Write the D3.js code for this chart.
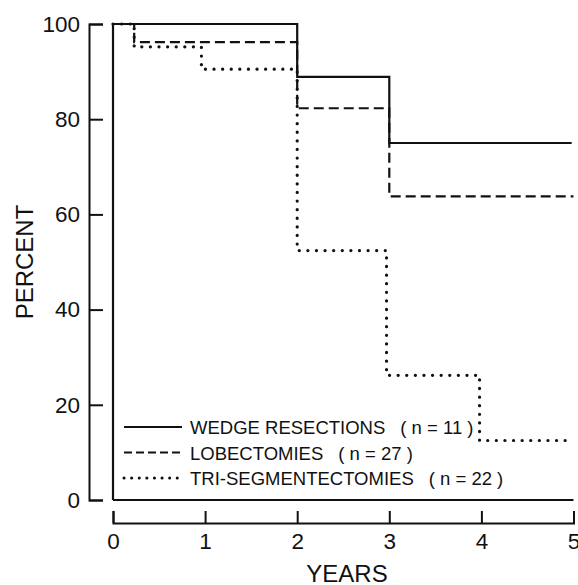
<!DOCTYPE html>
<html>
<head>
<meta charset="utf-8">
<script src="https://cdn.jsdelivr.net/npm/d3@7"></script>
<style>
  html, body { margin: 0; padding: 0; background: #fff; }
  svg { display: block; font-family: "Liberation Sans", Arial, Helvetica, sans-serif; }
</style>
</head>
<body>
<svg id="chart" width="578" height="585"></svg>
<script>
// ---- data ----
const yearTicks = [0, 1, 2, 3, 4, 5];
const percentTicks = [0, 20, 40, 60, 80, 100];
const seriesNames = ["WEDGE RESECTIONS", "LOBECTOMIES", "TRI-SEGMENTECTOMIES"];
const seriesN = [11, 27, 22];
const wedgeTimes = [0, 0, 2, 3, 4.98];
const wedgeValues = [0, 100, 88.9, 75, 75];
const lobeTimes = [0, 0.23, 2, 3, 5];
const lobeValues = [100, 96.2, 82.3, 63.8, 63.8];
const triTimes = [0, 0.23, 0.96, 2, 2.97, 3.98, 4.98];
const triValues = [100, 95.2, 90.5, 52.4, 26.2, 12.5, 12.5];

// ---- layout ----
const svg = d3.select("#chart");
const x = d3.scaleLinear().domain([0, 5]).range([113, 573.5]);
const y = d3.scaleLinear().domain([0, 100]).range([500, 24]);
const font = "Liberation Sans, Arial, Helvetica, sans-serif";

// y axis (ticks point inward)
const yAxis = svg.append("g")
  .attr("transform", "translate(89,0)")
  .call(d3.axisLeft(y).tickValues(percentTicks).tickSize(-14).tickPadding(9).tickFormat(d3.format("d")));
yAxis.selectAll("path, line").attr("stroke", "#111").attr("stroke-width", 2);
yAxis.selectAll("text").attr("font-size", 22.5).attr("font-family", font).attr("fill", "#111");

// x axis (separate, below; ticks point up)
const xAxis = svg.append("g")
  .attr("transform", "translate(0,523)")
  .call(d3.axisBottom(x).tickValues(yearTicks).tickSize(-12).tickPadding(10).tickFormat(d3.format("d")));
xAxis.selectAll("path, line").attr("stroke", "#111").attr("stroke-width", 2);
xAxis.selectAll("text").attr("font-size", 22.5).attr("font-family", font).attr("fill", "#111");

// zero baseline inside the plot
svg.append("line")
  .attr("x1", x(0)).attr("x2", x(5)).attr("y1", y(0)).attr("y2", y(0))
  .attr("stroke", "#111").attr("stroke-width", 2.2);

// axis titles
svg.append("text")
  .attr("transform", `translate(33,${y(50)}) rotate(-90)`)
  .attr("text-anchor", "middle")
  .attr("font-size", 24).attr("font-family", font).attr("fill", "#111")
  .text("PERCENT");
svg.append("text")
  .attr("x", 347).attr("y", 582)
  .attr("text-anchor", "middle")
  .attr("font-size", 24).attr("font-family", font).attr("fill", "#111")
  .text("YEARS");

// ---- curves ----
const line = d3.line().curve(d3.curveStepAfter).x(d => x(d[0])).y(d => y(d[1]));
const styles = [
  { dash: null, width: 2.2, cap: "butt" },
  { dash: "10 5", width: 2.2, cap: "butt" },
  { dash: "0.1 8.5", width: 3.2, cap: "round" }
];
const seriesData = [
  d3.zip(wedgeTimes, wedgeValues),
  d3.zip(lobeTimes, lobeValues),
  d3.zip(triTimes, triValues)
];
seriesData.forEach((pts, i) => {
  svg.append("path")
    .attr("d", line(pts))
    .attr("fill", "none")
    .attr("stroke", "#111")
    .attr("stroke-width", styles[i].width)
    .attr("stroke-linecap", styles[i].cap)
    .attr("stroke-dasharray", styles[i].dash);
});

// ---- legend ----
const legendStyles = [
  { dash: null, width: 2.2, cap: "butt" },
  { dash: "8 4", width: 2, cap: "butt" },
  { dash: "0.1 7.5", width: 3, cap: "round" }
];
const legendY = [427, 452.5, 478];
seriesNames.forEach((name, i) => {
  const g = svg.append("g");
  g.append("line")
    .attr("x1", 124).attr("x2", 182).attr("y1", legendY[i]).attr("y2", legendY[i])
    .attr("stroke", "#111")
    .attr("stroke-width", legendStyles[i].width)
    .attr("stroke-linecap", legendStyles[i].cap)
    .attr("stroke-dasharray", legendStyles[i].dash);
  const t = g.append("text")
    .attr("x", 190).attr("y", legendY[i] + 7)
    .attr("font-size", 18.5).attr("font-family", font).attr("fill", "#111");
  t.append("tspan").text(name);
  t.append("tspan").attr("dx", 15).attr("xml:space", "preserve").style("white-space", "pre")
    .text(`( n = ${seriesN[i]} )`);
});
</script>
</body>
</html>
